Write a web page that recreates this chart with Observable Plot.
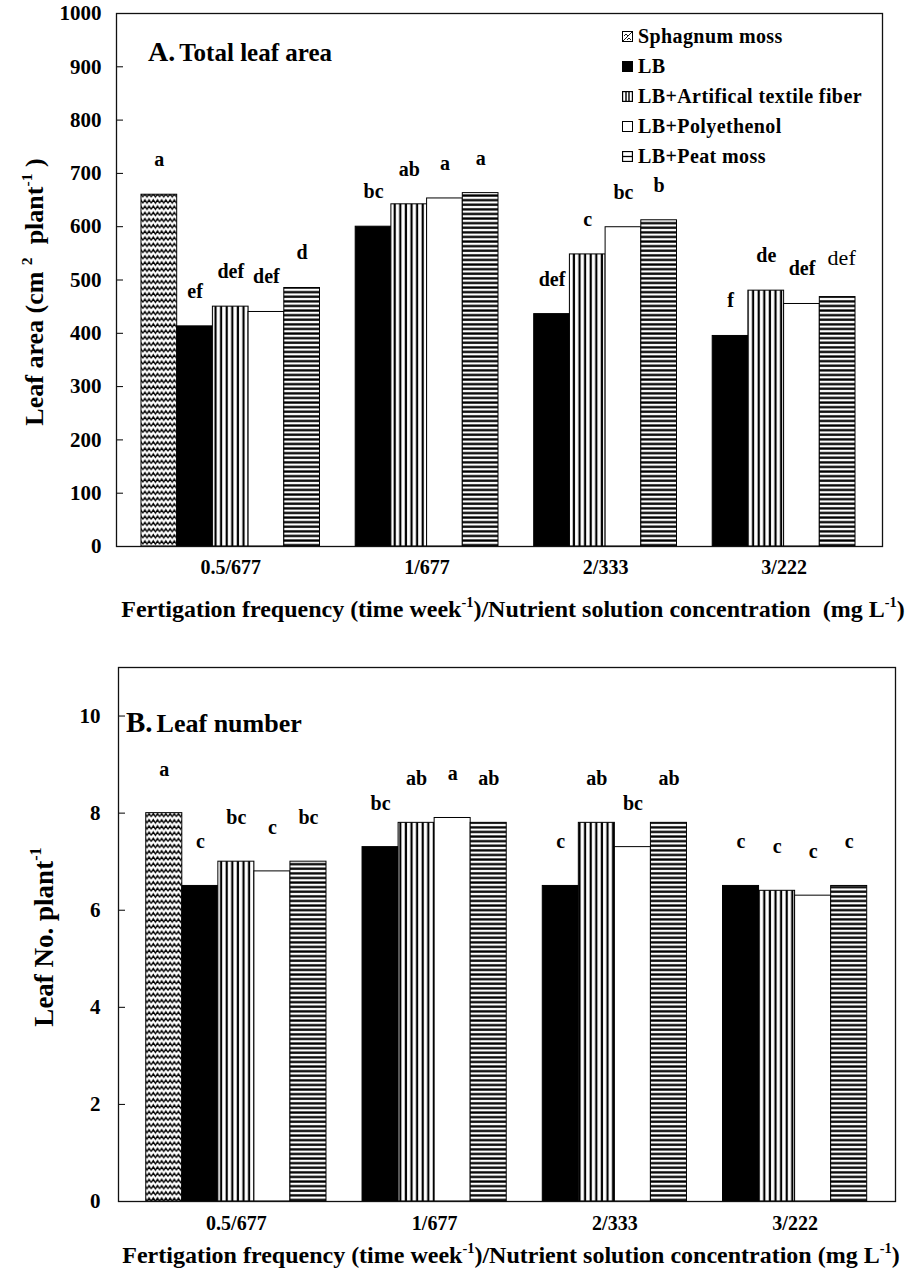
<!DOCTYPE html>
<html>
<head>
<meta charset="utf-8">
<script src="https://cdn.jsdelivr.net/npm/d3@7"></script>
<script src="https://cdn.jsdelivr.net/npm/@observablehq/plot@0.6"></script>
<style>
  body { margin: 0; background: white; }
  #wrap { position: relative; width: 911px; height: 1276px; background: white;
          font-family: 'Liberation Serif', 'Times New Roman', serif; font-weight: bold; color: black; }
  .abs { position: absolute; white-space: nowrap; line-height: 1; }
  sup { font-size: 0.6em; vertical-align: 0.7em; line-height: 0; }
  .rot { transform: translate(-50%, -50%) rotate(-90deg); }
  .xt { transform: translate(-50%, -50%); font-size: 24px; }
  .leg { position: absolute; left: 622px; font-size: 20px; display: flex; align-items: center; letter-spacing: 0.4px; }
  .leg svg { margin-right: 5px; }
</style>
</head>
<body>
<svg width="0" height="0" style="position:absolute">
  <defs>
    <pattern id="zig" patternUnits="userSpaceOnUse" width="8.4" height="6.2">
      <rect width="8.4" height="6.2" fill="white"/>
      <path d="M0,4.8 L2.1,1.4 L4.2,4.8 L6.3,1.4 L8.4,4.8" fill="none" stroke="black" stroke-width="1.35"/>
    </pattern>
    <pattern id="vstripe" patternUnits="userSpaceOnUse" width="5.6" height="10">
      <rect width="5.6" height="10" fill="white"/>
      <rect x="1.6" width="2.2" height="10" fill="black"/>
    </pattern>
    <pattern id="hstripe" patternUnits="userSpaceOnUse" width="10" height="4.6">
      <rect width="10" height="4.6" fill="white"/>
      <rect y="1.2" width="10" height="2.3" fill="black"/>
    </pattern>
  </defs>
</svg>
<div id="wrap">
  <div id="top" class="abs" style="left:0;top:0"></div>
  <div id="bot" class="abs" style="left:0;top:595px"></div>

  <div class="abs" style="left:148px;top:38px;"><span style="font-size:28px">A.</span> <span style="font-size:25px">Total leaf area</span></div>
  <div class="abs" style="left:126px;top:708px;"><span style="font-size:29px">B.</span> <span style="font-size:26px">Leaf number</span></div>

  <div class="abs rot" style="left:35px;top:292px;font-size:26px">Leaf area (cm&nbsp;<sup>2</sup>&nbsp;&nbsp;plant<sup>-1</sup>&nbsp;)</div>
  <div class="abs rot" style="left:44px;top:937px;font-size:27px">Leaf No. plant<sup>-1</sup></div>

  <div class="abs xt" style="left:513px;top:609px">Fertigation frequency (time week<sup>-1</sup>)/Nutrient solution concentration&nbsp;&nbsp;(mg L<sup>-1</sup>)</div>
  <div class="abs xt" style="left:511px;top:1255px">Fertigation frequency (time week<sup>-1</sup>)/Nutrient solution concentration (mg L<sup>-1</sup>)</div>

  <div id="legend"></div>
</div>
<script>
// ---------- data ----------
const groups = ["0.5/677", "1/677", "2/333", "3/222"];
const treatments = ["Sphagnum moss", "LB", "LB+Artifical textile fiber", "LB+Polyethenol", "LB+Peat moss"];

// A. Total leaf area (cm2 plant-1), one array per treatment across groups
const areaSphagnum = [660, null, null, null];
const areaLB       = [413, 600, 436, 395];
const areaTextile  = [450, 642, 548, 480];
const areaPoly     = [440, 653, 599, 455];
const areaPeat     = [485, 663, 612, 468];

const areaLetSphagnum = ["a", null, null, null];
const areaLetLB       = ["ef", "bc", "def", "f"];
const areaLetTextile  = ["def", "ab", "c", "de"];
const areaLetPoly     = ["def", "a", "bc", "def"];
const areaLetPeat     = ["d", "a", "b", "def"];

// B. Leaf number (plant-1)
const numSphagnum = [8.0, null, null, null];
const numLB       = [6.5, 7.3, 6.5, 6.5];
const numTextile  = [7.0, 7.8, 7.8, 6.4];
const numPoly     = [6.8, 7.9, 7.3, 6.3];
const numPeat     = [7.0, 7.8, 7.8, 6.5];

const numLetSphagnum = ["a", null, null, null];
const numLetLB       = ["c", "bc", "c", "c"];
const numLetTextile  = ["bc", "ab", "ab", "c"];
const numLetPoly     = ["c", "a", "bc", "c"];
const numLetPeat     = ["bc", "ab", "ab", "c"];

const areaTicks = [0, 100, 200, 300, 400, 500, 600, 700, 800, 900, 1000];
const numTicks = [0, 2, 4, 6, 8, 10];

// ---------- build ----------
const fills = ["url(#zig)", "black", "url(#vstripe)", "white", "url(#hstripe)"];

function buildTable(values, letters) {
  const rows = [];
  groups.forEach((g, gi) => {
    treatments.forEach((t, ti) => {
      const v = values[ti][gi];
      if (v == null) return;
      const slot = gi * treatments.length + ti;
      rows.push({group: g, gi, treatment: t, ti, value: v, letter: letters[ti][gi],
                 s0: slot, s1: slot + 1, mid: slot + 0.5});
    });
  });
  return rows;
}
function centers(rows) {
  return groups.map((g, gi) => d3.mean(rows.filter(r => r.gi === gi), r => r.mid));
}

function chart(rows, opt) {
  const c = centers(rows);
  const fmt = d => { const i = c.findIndex(v => Math.abs(v - d) < 1e-6); return i >= 0 ? groups[i] : ""; };
  const isLight = r => opt.lightLast && r.gi === 3 && r.ti === 4;
  return Plot.plot({
    width: 911,
    height: opt.height,
    marginTop: opt.mt, marginBottom: opt.mb, marginLeft: opt.ml, marginRight: opt.mr,
    style: {fontFamily: "'Liberation Serif', 'Times New Roman', serif", fontSize: "20px", color: "black", background: "transparent", overflow: "visible"},
    x: {type: "linear", domain: opt.xdomain},
    y: {domain: opt.ydomain},
    marks: [
      ...treatments.map((t, ti) => Plot.rectY(rows.filter(r => r.ti === ti), {
        x1: "s0", x2: "s1", y: "value", fill: fills[ti], stroke: "black", strokeWidth: 1
      })),
      Plot.text(rows, {filter: r => !isLight(r), x: "mid", y: "value", text: "letter",
        dy: opt.ldy, fontSize: 20, fontWeight: "bold"}),
      Plot.text(rows, {filter: r => isLight(r), x: "mid", y: "value", text: "letter",
        dy: opt.ldy - 4, fontSize: 22, fontWeight: "normal", dx: 4}),
      Plot.axisY({ticks: opt.yticks, tickSize: 0, tickPadding: opt.ypad, tickFormat: "d", fontSize: 21, fontWeight: "bold", label: null}),
      Plot.axisY({ticks: opt.yticks, tickSize: 7, dx: 7, tickFormat: () => "", label: null, stroke: "black"}),
      Plot.axisX({ticks: c, tickFormat: fmt, tickSize: 0, tickPadding: opt.xpad, fontSize: 20, fontWeight: "bold", label: null}),
      Plot.frame({stroke: "#111", strokeWidth: 1.3})
    ]
  });
}

const areaRows = buildTable(
  [areaSphagnum, areaLB, areaTextile, areaPoly, areaPeat],
  [areaLetSphagnum, areaLetLB, areaLetTextile, areaLetPoly, areaLetPeat]);
const numRows = buildTable(
  [numSphagnum, numLB, numTextile, numPoly, numPeat],
  [numLetSphagnum, numLetLB, numLetTextile, numLetPoly, numLetPeat]);

document.getElementById("top").appendChild(chart(areaRows, {
  height: 595, mt: 13, mb: 49, ml: 116, mr: 29,
  xdomain: [-0.70, 20.756], ydomain: [0, 1000], yticks: areaTicks,
  ldy: -35, ypad: 15, xpad: 13, lightLast: true
}));
document.getElementById("bot").appendChild(chart(numRows, {
  height: 681, mt: 72, mb: 75, ml: 118, mr: 16,
  xdomain: [-0.77, 20.785], ydomain: [0, 11], yticks: numTicks,
  ldy: -44, ypad: 18, xpad: 14, lightLast: false
}));

// ---------- legend ----------
const icons = [
  '<rect x="0.5" y="0.5" width="10" height="10" fill="white" stroke="black"/><path d="M1,10 L10,1 M2,5 L4,3 L6,5 M5,9 L7,7 L9,9" fill="none" stroke="black" stroke-width="0.9"/>',
  '<rect x="0.5" y="0.5" width="10" height="10" fill="black" stroke="black"/>',
  '<rect x="0.5" y="0.5" width="10" height="10" fill="white" stroke="black" stroke-width="1.4"/><path d="M4,0.5 V10.5 M7,0.5 V10.5" stroke="black" stroke-width="1.4"/>',
  '<rect x="0.5" y="0.5" width="10" height="10" fill="white" stroke="black"/>',
  '<rect x="0.5" y="0.5" width="10" height="10" fill="white" stroke="black" stroke-width="1.3"/><path d="M0.5,5.5 H10.5" stroke="black" stroke-width="1.3"/>'
];
const leg = document.getElementById("legend");
treatments.forEach((t, i) => {
  const row = document.createElement("div");
  row.className = "leg";
  row.style.top = (36 + i * 30 - 11) + "px";
  row.innerHTML = `<svg width="11" height="11">${icons[i]}</svg><span>${t}</span>`;
  leg.appendChild(row);
});
</script>
</body>
</html>
